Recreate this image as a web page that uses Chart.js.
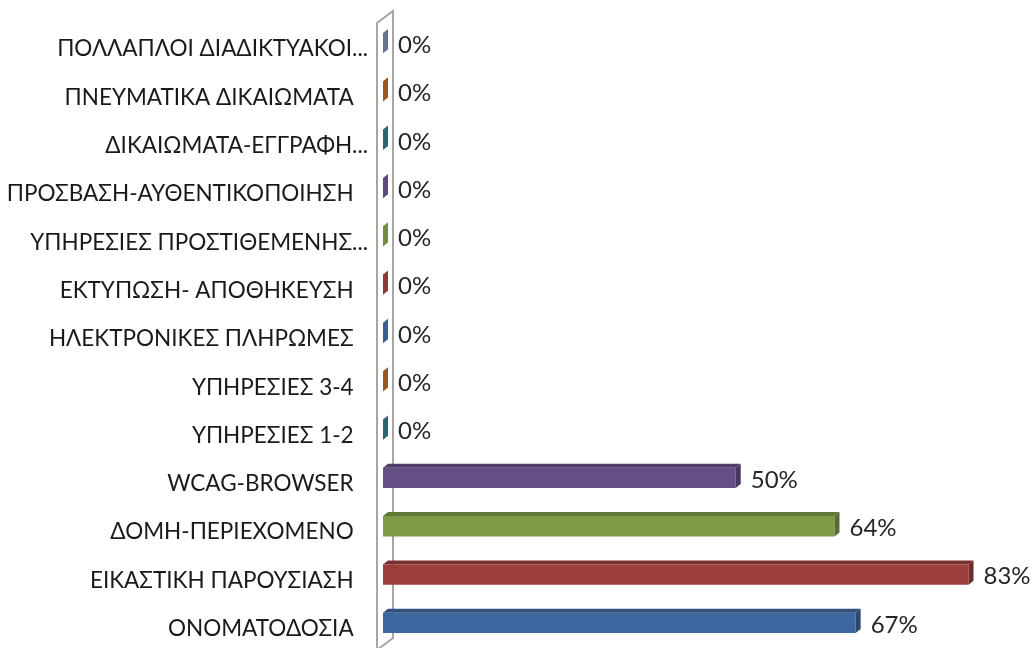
<!DOCTYPE html>
<html>
<head>
<meta charset="utf-8">
<script src="https://cdn.jsdelivr.net/npm/chart.js@4/dist/chart.umd.min.js"></script>
<style>
  html, body { margin: 0; padding: 0; background: #ffffff; }
  #wrap { width: 1034px; height: 648px; position: relative; }
</style>
</head>
<body>
<div id="wrap"><canvas id="chart"></canvas></div>
<script>
// Categories, listed top to bottom
const categories = [
  'ΠΟΛΛΑΠΛΟΙ ΔΙΑΔΙΚΤΥΑΚΟΙ...',
  'ΠΝΕΥΜΑΤΙΚΑ ΔΙΚΑΙΩΜΑΤΑ',
  'ΔΙΚΑΙΩΜΑΤΑ-ΕΓΓΡΑΦΗ...',
  'ΠΡΟΣΒΑΣΗ-ΑΥΘΕΝΤΙΚΟΠΟΙΗΣΗ',
  'ΥΠΗΡΕΣΙΕΣ ΠΡΟΣΤΙΘΕΜΕΝΗΣ...',
  'ΕΚΤΥΠΩΣΗ- ΑΠΟΘΗΚΕΥΣΗ',
  'ΗΛΕΚΤΡΟΝΙΚΕΣ ΠΛΗΡΩΜΕΣ',
  'ΥΠΗΡΕΣΙΕΣ 3-4',
  'ΥΠΗΡΕΣΙΕΣ 1-2',
  'WCAG-BROWSER',
  'ΔΟΜΗ-ΠΕΡΙΕΧΟΜΕΝΟ',
  'ΕΙΚΑΣΤΙΚΗ ΠΑΡΟΥΣΙΑΣΗ',
  'ΟΝΟΜΑΤΟΔΟΣΙΑ'
];

// Percentage per category
const percentages = [0, 0, 0, 0, 0, 0, 0, 0, 0, 50, 64, 83, 67];

// One colour per bar (front face)
const barColors = [
  '#6f7d9a', '#a85e27', '#2e6e7c', '#654f86', '#7e9a46', '#9d3e3c', '#3e67a0',
  '#a85e27', '#2e6e7c', '#654f86', '#7e9a46', '#9d3e3c', '#3e67a0'
];

const DEPTH_X = 5, DEPTH_Y = 4;
const LABEL_FONT = '22.5px Lato, "Open Sans", sans-serif';
const VALUE_FONT = '24px Lato, "Open Sans", sans-serif';

function shade(hex, f) {
  const n = parseInt(hex.slice(1), 16);
  const r = Math.round(((n >> 16) & 255) * f);
  const g = Math.round(((n >> 8) & 255) * f);
  const b = Math.round((n & 255) * f);
  return `rgb(${r},${g},${b})`;
}

// Back wall behind the category axis
const wallPlugin = {
  id: 'wall',
  beforeDatasetsDraw(chart) {
    const { ctx, chartArea: a } = chart;
    const xl = a.left - 6, xr = a.left + 10;
    ctx.save();
    ctx.strokeStyle = '#a6a6a6';
    ctx.lineWidth = 2;
    ctx.beginPath();
    ctx.moveTo(xl, a.bottom + 3);
    ctx.lineTo(xl, a.top + 4);
    ctx.lineTo(xr, a.top - 8);
    ctx.lineTo(xr, a.bottom - 9);
    ctx.lineTo(xl, a.bottom + 3);
    ctx.stroke();
    ctx.restore();
  }
};

// Top and end faces giving the bars depth, plus value labels
const depthPlugin = {
  id: 'depth',
  afterDatasetsDraw(chart) {
    const { ctx } = chart;
    const meta = chart.getDatasetMeta(0);
    ctx.save();
    meta.data.forEach((bar, i) => {
      const p = bar.getProps(['x', 'y', 'base', 'height'], true);
      const top = p.y - p.height / 2, bottom = p.y + p.height / 2;
      const left = p.base, right = p.x;
      const c = barColors[i];
      // top face
      if (right - left > 0.5) {
        ctx.fillStyle = shade(c, 0.78);
        ctx.beginPath();
        ctx.moveTo(left, top);
        ctx.lineTo(left + DEPTH_X, top - DEPTH_Y);
        ctx.lineTo(right + DEPTH_X, top - DEPTH_Y);
        ctx.lineTo(right, top);
        ctx.closePath();
        ctx.fill();
      }
      // end face
      ctx.fillStyle = right - left > 0.5 ? shade(c, 0.7) : shade(c, 0.92);
      ctx.beginPath();
      ctx.moveTo(right, top);
      ctx.lineTo(right + DEPTH_X, top - DEPTH_Y);
      ctx.lineTo(right + DEPTH_X, bottom - DEPTH_Y);
      ctx.lineTo(right, bottom);
      ctx.closePath();
      ctx.fill();
      // value label
      ctx.fillStyle = '#262626';
      ctx.font = VALUE_FONT;
      ctx.textAlign = 'left';
      ctx.textBaseline = 'middle';
      ctx.fillText(percentages[i] + '%', right + 15, p.y + 2);
    });
    ctx.restore();
  }
};

function draw() {
  new Chart(document.getElementById('chart'), {
    type: 'bar',
    data: {
      labels: categories,
      datasets: [{
        data: percentages,
        backgroundColor: barColors,
        borderWidth: 0,
        barPercentage: 0.42,
        categoryPercentage: 1
      }]
    },
    options: {
      indexAxis: 'y',
      responsive: true,
      maintainAspectRatio: false,
      animation: false,
      layout: { padding: { top: 19, bottom: 1, right: 2, left: 0 } },
      plugins: { legend: { display: false }, tooltip: { enabled: false } },
      scales: {
        x: { display: false, min: 0, max: 92 },
        y: {
          afterFit(scale) {
            scale.width = 383;
            scale.paddingTop = 0;
            scale.paddingBottom = 0;
          },
          border: { display: false },
          grid: { display: false, drawTicks: false },
          ticks: {
            color: '#1a1a1a',
            font: { family: 'Lato, "Open Sans", sans-serif', size: 22.5 },
            padding: 15,
            labelOffset: 6,
            autoSkip: false,
            callback(value) {
              const l = this.getLabelForValue(value);
              return l.endsWith('...') ? l : l + '\u2008\u2008\u2008';
            }
          }
        }
      }
    },
    plugins: [wallPlugin, depthPlugin]
  });
}

Promise.all([
  document.fonts.load(LABEL_FONT, 'ΑΒΓ'),
  document.fonts.load(VALUE_FONT, '0%')
]).then(draw, draw);
</script>
</body>
</html>
